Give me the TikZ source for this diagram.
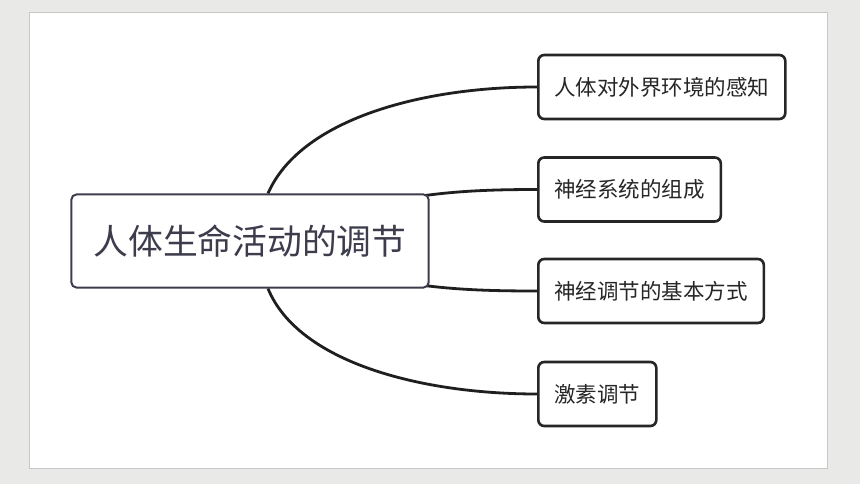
\documentclass[tikz,border=0pt]{standalone}
\usepackage{fontspec}
\newfontfamily\cjk{Noto Sans CJK SC}
\usepackage{tikz}
\usetikzlibrary{calc,backgrounds}
\usepackage{xcolor}
\definecolor{pagebg}{RGB}{233,234,231}
\definecolor{rootline}{RGB}{60,60,76}
\definecolor{panelline}{RGB}{200,200,200}

\begin{document}
\begin{tikzpicture}[x=1pt,y=-1pt,
  rootbox/.style={draw=rootline,line width=2pt,rounded corners=5pt,fill=white,
    inner xsep=22pt,minimum height=93pt,text=rootline,
    font=\cjk\fontsize{34.8}{34.8}\selectfont},
  topic/.style={draw=black!85,line width=2.6pt,rounded corners=6pt,fill=white,
    anchor=west,inner xsep=16pt,minimum height=64pt,text=black!85,
    font=\cjk\fontsize{21.5}{21.5}\selectfont},
  branch/.style={line width=2.8pt,black!88}]
\useasboundingbox (0,0) rectangle (860,484);

\node[rootbox] (root) at (250,241) {人体生命活动的调节};
\node[topic] (t1) at (537,87) {人体对外界环境的感知};
\node[topic] (t2) at (537,189.5) {神经系统的组成};
\node[topic] (t3) at (537,291) {神经调节的基本方式};
\node[topic] (t4) at (537,394) {激素调节};

\begin{scope}[on background layer]
% page and white panel
\fill[pagebg] (0,0) rectangle (860,484);
\filldraw[fill=white,draw=panelline,line width=1pt] (29,13) rectangle (827,468);
% branches
\draw[branch] ($(root.north west)!0.55!(root.north east)$) .. controls (300,120) and (420,87) .. (t1.west);
\draw[branch] (root.center) .. controls (380,196) and (440,189.5) .. (t2.west);
\draw[branch] (root.center) .. controls (380,286) and (440,291) .. (t3.west);
\draw[branch] ($(root.south west)!0.55!(root.south east)$) .. controls (298,362) and (420,394) .. (t4.west);
\end{scope}
\end{tikzpicture}
\end{document}
